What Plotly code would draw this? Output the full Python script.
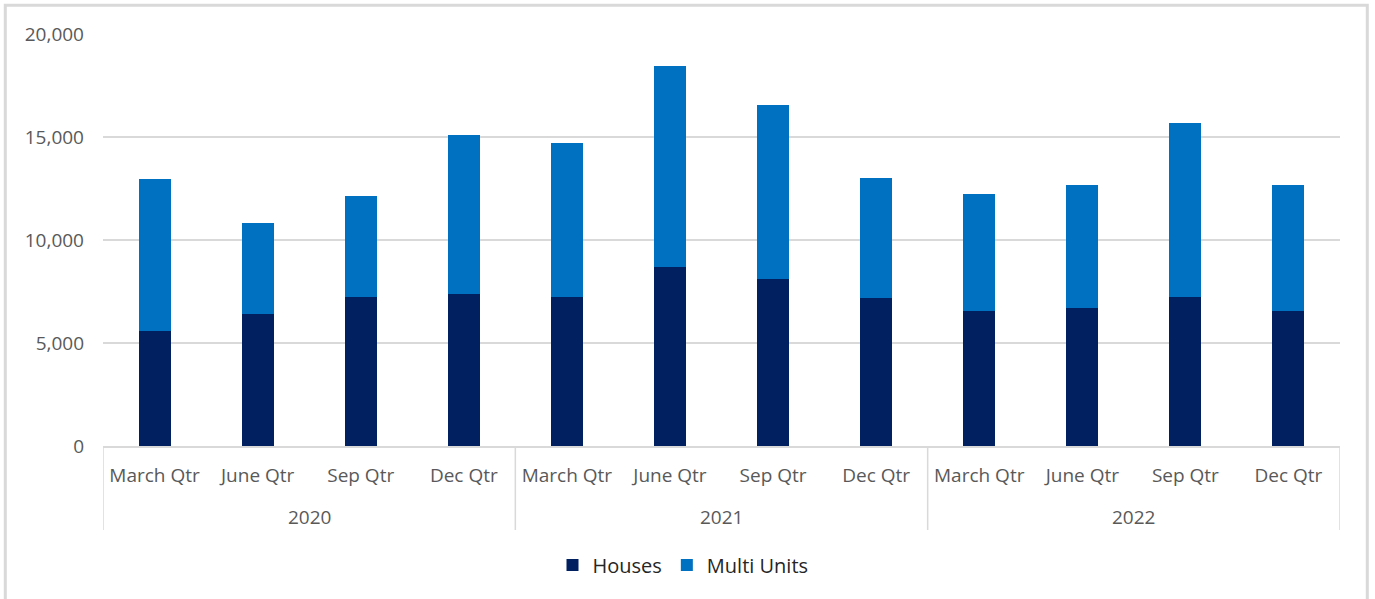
import plotly.graph_objects as go

years = ["2020"] * 4 + ["2021"] * 4 + ["2022"] * 4
quarters = ["March Qtr", "June Qtr", "Sep Qtr", "Dec Qtr"] * 3
houses = [5600, 6430, 7220, 7400, 7220, 8680, 8130, 7170, 6540, 6720, 7220, 6540]
totals = [12950, 10810, 12120, 15080, 14710, 18430, 16570, 13030, 12220, 12660, 15670, 12660]
multi_units = [t - h for t, h in zip(totals, houses)]

FONT = "Open Sans"
GREY_TXT = "#595959"
GRID = "#D9D9D9"

idx = list(range(len(quarters)))

# group boundaries derived from the year list
groups = []
for i, y in enumerate(years):
    if not groups or groups[-1][0] != y:
        groups.append([y, i, i])
    else:
        groups[-1][2] = i

fig = go.Figure()
fig.add_trace(go.Bar(x=idx, y=houses, name="Houses",
                     marker=dict(color="#002060", line=dict(width=0))))
fig.add_trace(go.Bar(x=idx, y=multi_units, name="Multi Units",
                     marker=dict(color="#0070C0", line=dict(width=0))))

H_PLOT = 412.0
W_PLOT = 1237.0
def py(pix_below_axis):
    return -pix_below_axis / H_PLOT

shapes = []
annotations = []
bounds = sorted(set([g[1] - 0.5 for g in groups] + [g[2] + 0.5 for g in groups]))
for b in bounds:
    shapes.append(dict(type="line", xref="x", yref="paper", x0=b, x1=b, y0=0, y1=py(84),
                       line=dict(color=GRID, width=1.5)))
for name, s, e in groups:
    annotations.append(dict(x=(s + e) / 2, y=py(71), xref="x", yref="paper", text=name,
                            showarrow=False, yanchor="middle",
                            font=dict(family=FONT, size=19, color=GREY_TXT)))

# outer chart border
shapes.append(dict(type="rect", xref="paper", yref="paper",
                   x0=(5.3 - 103) / W_PLOT, x1=(1367.3 - 103) / W_PLOT,
                   y0=py(165), y1=(446 - 5.3) / H_PLOT,
                   line=dict(color=GRID, width=3), layer="below"))

fig.update_layout(
    barmode="stack",
    bargap=0.69,
    width=1375, height=599,
    margin=dict(l=103, r=35, t=34, b=153),
    paper_bgcolor="white", plot_bgcolor="white",
    font=dict(family=FONT, size=19, color=GREY_TXT),
    showlegend=True,
    legend=dict(orientation="h", x=(683 - 103) / W_PLOT, xanchor="center", y=py(119),
                yanchor="middle", font=dict(size=20, color="#262626"),
                traceorder="normal", itemwidth=30),
    yaxis=dict(range=[0, 20000], dtick=5000, tickformat=",", showgrid=True,
               gridcolor=GRID, gridwidth=1.5, zeroline=False, showline=False,
               ticks="", ticklabelstandoff=18, tickfont=dict(size=19, color=GREY_TXT)),
    xaxis=dict(type="linear", range=[-0.5, len(idx) - 0.5], tickvals=idx, ticktext=quarters,
               showline=True, linecolor=GRID, linewidth=1.5, ticks="", showgrid=False,
               zeroline=False, ticklabelstandoff=11,
               tickfont=dict(size=19, color=GREY_TXT)),
    shapes=shapes,
    annotations=annotations,
)

fig.write_html("out.html", config={"displayModeBar": False},
               post_script="document.body.style.margin='0';")
